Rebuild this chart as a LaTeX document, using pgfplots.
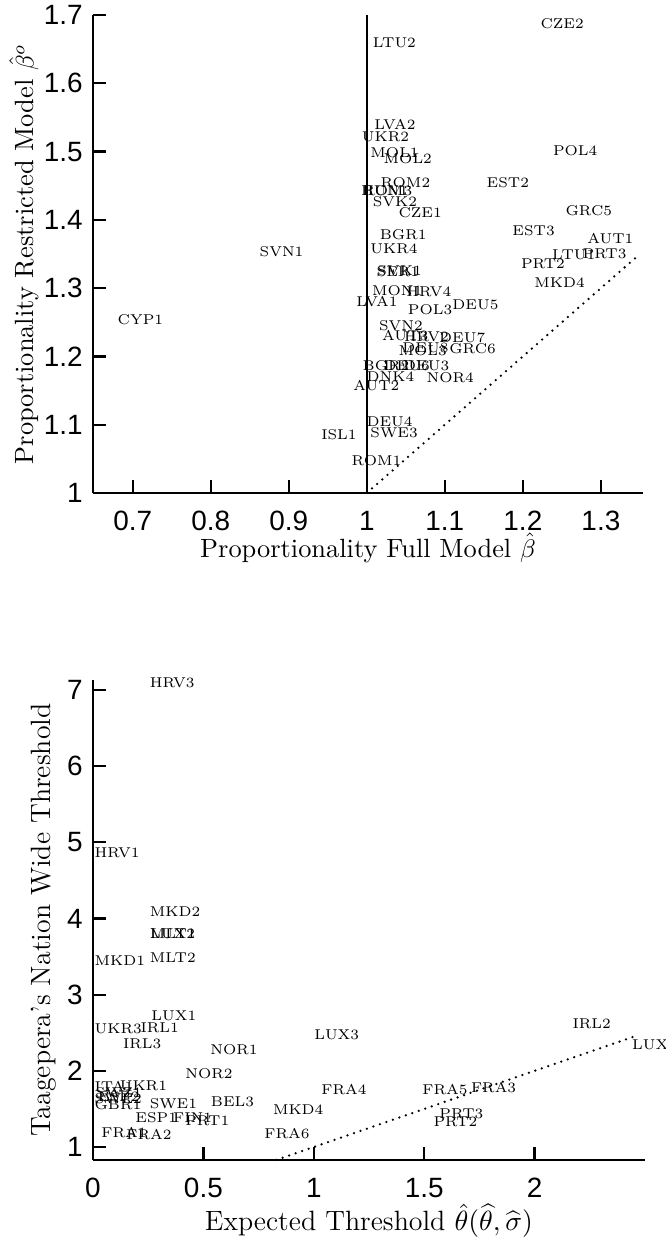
\documentclass[border=0pt]{standalone}
\usepackage{fontspec}
\newfontfamily\ticksf{Liberation Sans}
\usepackage{pgfplots}
\pgfplotsset{compat=1.18}

\pgfplotsset{
  mstyle/.style={
    scale only axis, axis lines=left, axis line style={-, line width=0.9pt},
    tick align=inside, major tick length=5pt, tick style={line width=0.9pt, black},
    tick label style={font=\ticksf\fontsize{11}{13}\selectfont},
    /pgf/number format/assume math mode=true,
    xticklabel style={yshift=-3.5pt}, yticklabel style={xshift=-0.5pt},
    clip=false,
  },
  lbl/.style={only marks, mark=none, nodes near coords, point meta=explicit symbolic,
    every node near coord/.append style={anchor=west, inner sep=0pt, font=\fontsize{5.6}{6}\selectfont}},
  dots/.style={black, line width=1pt, dash pattern=on 0pt off 2.7pt, line cap=round},
}

\pgfplotstableread{
x y lab
1.222 1.688 CZE2
1.007 1.659 LTU2
1.009 1.540 LVA2
0.993 1.521 UKR2
1.004 1.498 MOL1
1.021 1.490 MOL2
1.238 1.501 POL4
1.017 1.455 ROM2
1.153 1.455 EST2
0.994 1.443 ROM3
0.992 1.443 HUN1
1.007 1.426 SVK2
1.040 1.410 CZE1
1.254 1.413 GRC5
1.016 1.379 BGR1
1.186 1.384 EST3
1.282 1.373 AUT1
1.004 1.357 UKR4
1.237 1.349 LTU1
1.276 1.351 PRT3
1.197 1.336 PRT2
1.012 1.324 SER1
1.013 1.325 SVK1
1.006 1.296 MON1
1.050 1.295 HRV4
0.986 1.281 LVA1
1.052 1.268 POL3
1.109 1.275 DEU5
1.214 1.308 MKD4
1.015 1.245 SVN2
1.019 1.231 AUT3
1.047 1.229 HRV2
1.092 1.228 DEU7
1.045 1.213 DEU8
1.040 1.208 MOL3
1.105 1.211 GRC6
0.994 1.187 BGR2
1.021 1.186 DEU6
1.046 1.186 DEU3
0.999 1.170 DNK4
1.076 1.169 NOR4
0.982 1.157 AUT2
0.999 1.104 DEU4
1.004 1.089 SWE3
0.980 1.048 ROM1
0.862 1.353 SVN1
0.680 1.254 CYP1
0.941 1.085 ISL1
}\toptab

\pgfplotstableread{
x y lab
0.255 7.09 HRV3
0.005 4.86 HRV1
0.255 4.09 MKD2
0.255 3.80 MLT1
0.257 3.80 LUX2
0.005 3.45 MKD1
0.255 3.49 MLT2
0.262 2.72 LUX1
0.005 2.55 UKR3
0.213 2.57 IRL1
0.134 2.35 IRL3
0.529 2.28 NOR1
1.000 2.47 LUX3
0.416 1.96 NOR2
0.119 1.81 UKR1
1.032 1.75 FRA4
0.255 1.57 SWE1
0.532 1.59 BEL3
0.813 1.49 MKD4
0.190 1.38 ESP1
0.361 1.39 FIN1
0.416 1.345 PRT1
0.036 1.19 FRA1
0.149 1.16 FRA2
0.774 1.17 FRA6
0.005 1.80 ITA1
0.010 1.72 SWZ1
0.005 1.64 SWE2
0.020 1.66 ESP2
0.005 1.56 GBR1
2.170 2.62 IRL2
2.440 2.34 LUX4
1.490 1.76 FRA5
1.710 1.78 FRA3
1.567 1.44 PRT3
1.540 1.33 PRT2
}\bottab

\begin{document}
\begin{tikzpicture}
\begin{axis}[mstyle,
  at={(0,0)}, anchor=south west,
  width=7.618cm, height=6.620cm,
  xmin=0.649, xmax=1.354, ymin=1, ymax=1.7,
  xtick={0.7,0.8,0.9,1,1.1,1.2,1.3},
  ytick={1,1.1,1.2,1.3,1.4,1.5,1.6,1.7},
  label style={font=\fontsize{10.4}{12}\selectfont},
  xlabel={Proportionality Full Model $\hat{\beta}$},
  ylabel={Proportionality Restricted Model $\hat{\beta}^o$},
  xlabel style={at={(axis description cs:0.5,-0.115)}, anchor=center},
  ylabel style={at={(axis description cs:-0.125,0.5)}, anchor=center},
]
\addplot[black, line width=0.8pt] coordinates {(1,1) (1,1.7)};
\addplot[dots] coordinates {(1,1) (1.35,1.35)};
\addplot[lbl] table[x=x, y=y, meta=lab] {\toptab};
\end{axis}

\begin{axis}[mstyle,
  at={(0,-9.238cm)}, anchor=south west,
  width=7.645cm, height=6.648cm,
  xmin=0, xmax=2.5, ymin=0.83, ymax=7.13,
  xtick={0,0.5,1,1.5,2},
  ytick={1,2,3,4,5,6,7},
  label style={font=\fontsize{11}{13}\selectfont},
  xlabel={Expected Threshold $\hat{\theta}(\widehat{\theta},\widehat{\sigma})$},
  ylabel={Taagepera's Nation Wide Threshold},
  xlabel style={at={(axis description cs:0.5,-0.127)}, anchor=center},
  ylabel style={at={(axis description cs:-0.09,0.5)}, anchor=center},
]
\addplot[dots] coordinates {(0.83,0.83) (2.45,2.45)};
\addplot[lbl] table[x=x, y=y, meta=lab] {\bottab};
\end{axis}

\pgfresetboundingbox
\path[use as bounding box] (-1.288cm,-10.388cm) rectangle (7.936cm,6.828cm);
\end{tikzpicture}
\end{document}
